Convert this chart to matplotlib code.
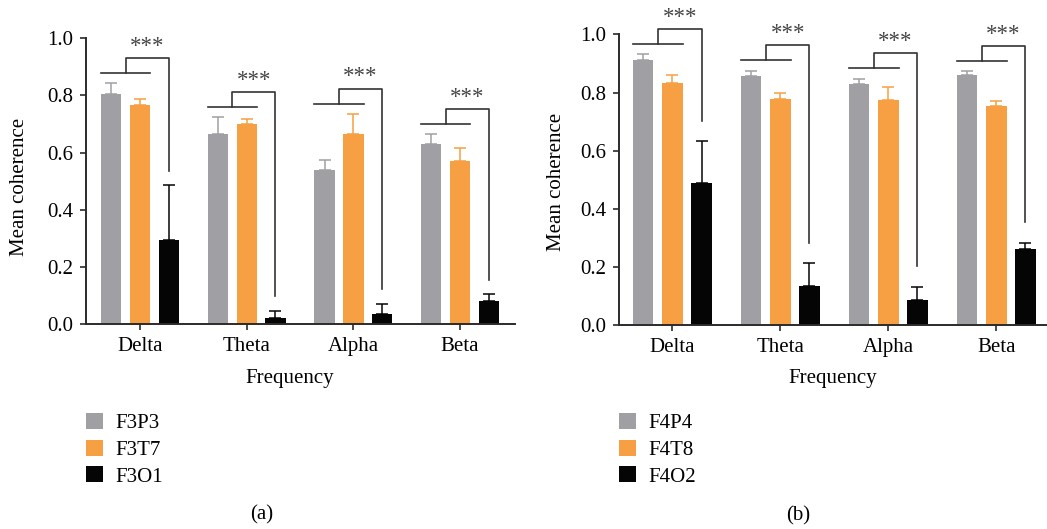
import matplotlib.pyplot as plt
import numpy as np

plt.rcParams['font.family'] = ['Liberation Serif', 'DejaVu Serif']

bands = ['Delta', 'Theta', 'Alpha', 'Beta']

# panel (a) - left hemisphere pairs
a_names = ['F3P3', 'F3T7', 'F3O1']
a_f3p3 = [0.805, 0.665, 0.541, 0.632]
a_f3p3_err = [0.040, 0.061, 0.035, 0.035]
a_f3t7 = [0.768, 0.700, 0.667, 0.571]
a_f3t7_err = [0.019, 0.019, 0.070, 0.047]
a_f3o1 = [0.294, 0.021, 0.036, 0.083]
a_f3o1_err = [0.192, 0.027, 0.036, 0.023]

# panel (b) - right hemisphere pairs
b_names = ['F4P4', 'F4T8', 'F4O2']
b_f4p4 = [0.913, 0.857, 0.830, 0.861]
b_f4p4_err = [0.018, 0.018, 0.018, 0.012]
b_f4t8 = [0.834, 0.779, 0.773, 0.754]
b_f4t8_err = [0.027, 0.018, 0.045, 0.017]
b_f4o2 = [0.489, 0.136, 0.086, 0.262]
b_f4o2_err = [0.144, 0.078, 0.047, 0.022]

colors = ['#A0A0A4', '#F79F43', '#050505']
spine_col = '#2b2b2b'
W = 1047
H = 529
FS = 15


def draw_panel(ax, vals, errs, names, drop_gap):
    x = np.arange(len(bands))
    off = 0.27
    w = 0.19
    for i in range(3):
        pos = x + (i - 1) * off
        ax.bar(pos, vals[i], width=w, color=colors[i], label=names[i], zorder=2)
        ax.errorbar(pos, vals[i], yerr=[np.zeros(len(bands)), errs[i]], fmt='none',
                    ecolor=colors[i], elinewidth=1.1, capsize=4.5, capthick=1.1, zorder=1)

    # significance brackets: (gray + orange) vs black
    for j in range(len(bands)):
        top_pair = max(vals[0][j] + errs[0][j], vals[1][j] + errs[1][j])
        low = top_pair + 0.035
        up = low + 0.052
        x0 = x[j] - off - w / 2
        x1 = x[j] + w / 2
        xm = (x0 + x1) / 2
        xb = x[j] + off
        yb = vals[2][j] + errs[2][j] + drop_gap
        kw = dict(color='#333333', lw=1.2, clip_on=False, zorder=3)
        ax.plot([x0, x1], [low, low], **kw)
        ax.plot([xm, xm, xb, xb], [low, up, up, yb], **kw)
        ax.text((xm + xb) / 2, up + 0.004, '***', ha='center', va='bottom',
                fontsize=16.5, color='#444444', clip_on=False)

    ax.set_ylim(0, 1.0)
    ax.set_yticks([0.0, 0.2, 0.4, 0.6, 0.8, 1.0])
    ax.set_yticklabels(['0.0', '0.2', '0.4', '0.6', '0.8', '1.0'])
    ax.set_xticks(x)
    ax.set_xticklabels(bands)
    for s in ['top', 'right']:
        ax.spines[s].set_visible(False)
    for s in ['left', 'bottom']:
        ax.spines[s].set_linewidth(1.4)
        ax.spines[s].set_color(spine_col)
    ax.tick_params(axis='both', labelsize=FS, width=1.2, length=4, color=spine_col)
    ax.tick_params(axis='y', pad=5)
    ax.tick_params(axis='x', pad=5)
    ax.set_ylabel('Mean coherence', fontsize=FS)
    ax.set_xlabel('Frequency', fontsize=FS)


fig = plt.figure(figsize=(W / 100, H / 100), dpi=100)

ax1 = fig.add_axes([86 / W, 1 - 324.3 / H, 429 / W, 286 / H])
ax2 = fig.add_axes([619 / W, 1 - 325.3 / H, 427 / W, 291 / H])

draw_panel(ax1, [a_f3p3, a_f3t7, a_f3o1], [a_f3p3_err, a_f3t7_err, a_f3o1_err], a_names, 0.05)
draw_panel(ax2, [b_f4p4, b_f4t8, b_f4o2], [b_f4p4_err, b_f4t8_err, b_f4o2_err], b_names, 0.07)

ax1.set_xlim(-0.506, 3.515)
ax2.set_xlim(-0.494, 3.46)

ax1.xaxis.set_label_coords((290 - 86) / 429, (324.3 - 369) / 286)
ax2.xaxis.set_label_coords(0.5, (325.3 - 369) / 291)
ax1.yaxis.set_label_coords((29 - 86) / 429, 0.48)
ax2.yaxis.set_label_coords((566 - 619) / 427, 0.492)

for ax, xl in [(ax1, 86), (ax2, 619)]:
    ax.legend(loc='upper left', bbox_to_anchor=(xl / W, 1 - 413 / H),
              bbox_transform=fig.transFigure, frameon=False, fontsize=FS,
              handlelength=0.82, handleheight=0.82, handletextpad=0.6,
              labelspacing=0.3, borderpad=0, borderaxespad=0)

fig.text(262 / W, 1 - 515 / H, '(a)', ha='center', va='center', fontsize=FS)
fig.text(798 / W, 1 - 516 / H, '(b)', ha='center', va='center', fontsize=FS)

fig.savefig('out.png', dpi=100)
